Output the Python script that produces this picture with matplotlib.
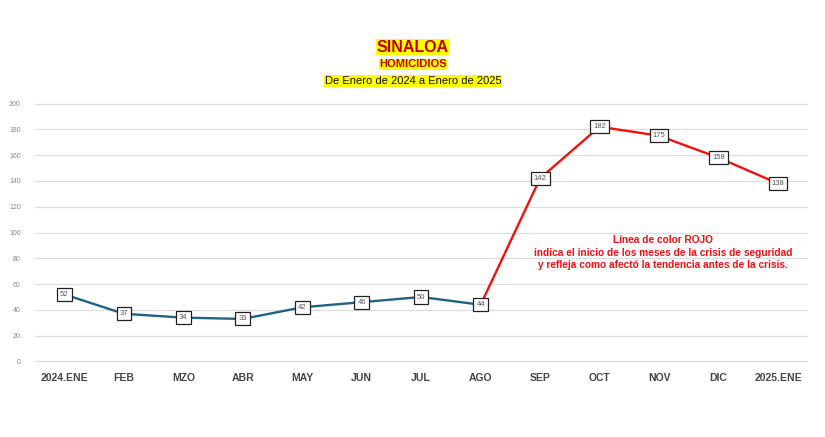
import numpy as np
import matplotlib.pyplot as plt

plt.rcParams['font.family'] = ['Liberation Sans', 'DejaVu Sans']

meses = ['2024.ENE', 'FEB', 'MZO', 'ABR', 'MAY', 'JUN', 'JUL', 'AGO',
         'SEP', 'OCT', 'NOV', 'DIC', '2025.ENE']
homicidios = [52, 37, 34, 33, 42, 46, 50, 44, 142, 182, 175, 158, 138]
inicio_crisis = 7  # AGO

x = np.arange(len(meses))

fig = plt.figure(figsize=(8.25, 4.37), dpi=100)
ax = fig.add_axes([0.042, 0.1716, 0.937, 0.5927])

ax.plot(x[:inicio_crisis + 1], homicidios[:inicio_crisis + 1], color='#1f6281', lw=1.7, zorder=2)
ax.plot(x[inicio_crisis:], homicidios[inicio_crisis:], color='#f01010', lw=1.7, zorder=2)

for xi, v in zip(x, homicidios):
    ax.text(xi, v, str(v), ha='center', va='center', fontsize=5.5, color='#555555', zorder=3,
            bbox=dict(boxstyle='square,pad=0.4', fc='white', ec='#222222', lw=0.9))

ax.set_xlim(-0.5, len(meses) - 0.5)
ax.set_ylim(-0.4, 200.4)
ax.set_yticks(range(0, 201, 20))
ax.set_xticks(x)
ax.set_xticklabels(meses, fontsize=7.5, fontweight='bold', color='#444444')
ax.tick_params(axis='y', labelsize=5, colors='#888888', length=0, pad=10)
ax.tick_params(axis='x', length=0, pad=8)
ax.grid(axis='y', color='#dddddd', lw=0.9)
ax.set_axisbelow(True)
for s in ax.spines.values():
    s.set_visible(False)

cx = 0.5006
fig.text(cx, 0.892, 'SINALOA', ha='center', va='center', fontsize=11.5, fontweight='bold',
         color='#c00000', bbox=dict(boxstyle='square,pad=0.05', fc='#ffff00', ec='none'))
fig.text(cx, 0.853, 'HOMICIDIOS', ha='center', va='center', fontsize=8, fontweight='bold',
         color='#c00000', bbox=dict(boxstyle='square,pad=0.05', fc='#ffff00', ec='none'))
fig.text(cx, 0.814, 'De Enero de 2024 a Enero de 2025', ha='center', va='center', fontsize=8,
         color='#111111', bbox=dict(boxstyle='square,pad=0.1', fc='#ffff00', ec='none'))

fig.text(0.804, 0.422, 'Línea de color ROJO\nindica el inicio de los meses de la crisis de seguridad\n'
         'y refleja como afectó la tendencia antes de la crisis.',
         ha='center', va='center', fontsize=7.3, fontweight='bold', color='#f01010', linespacing=1.35)

fig.savefig('out.png', dpi=100)
